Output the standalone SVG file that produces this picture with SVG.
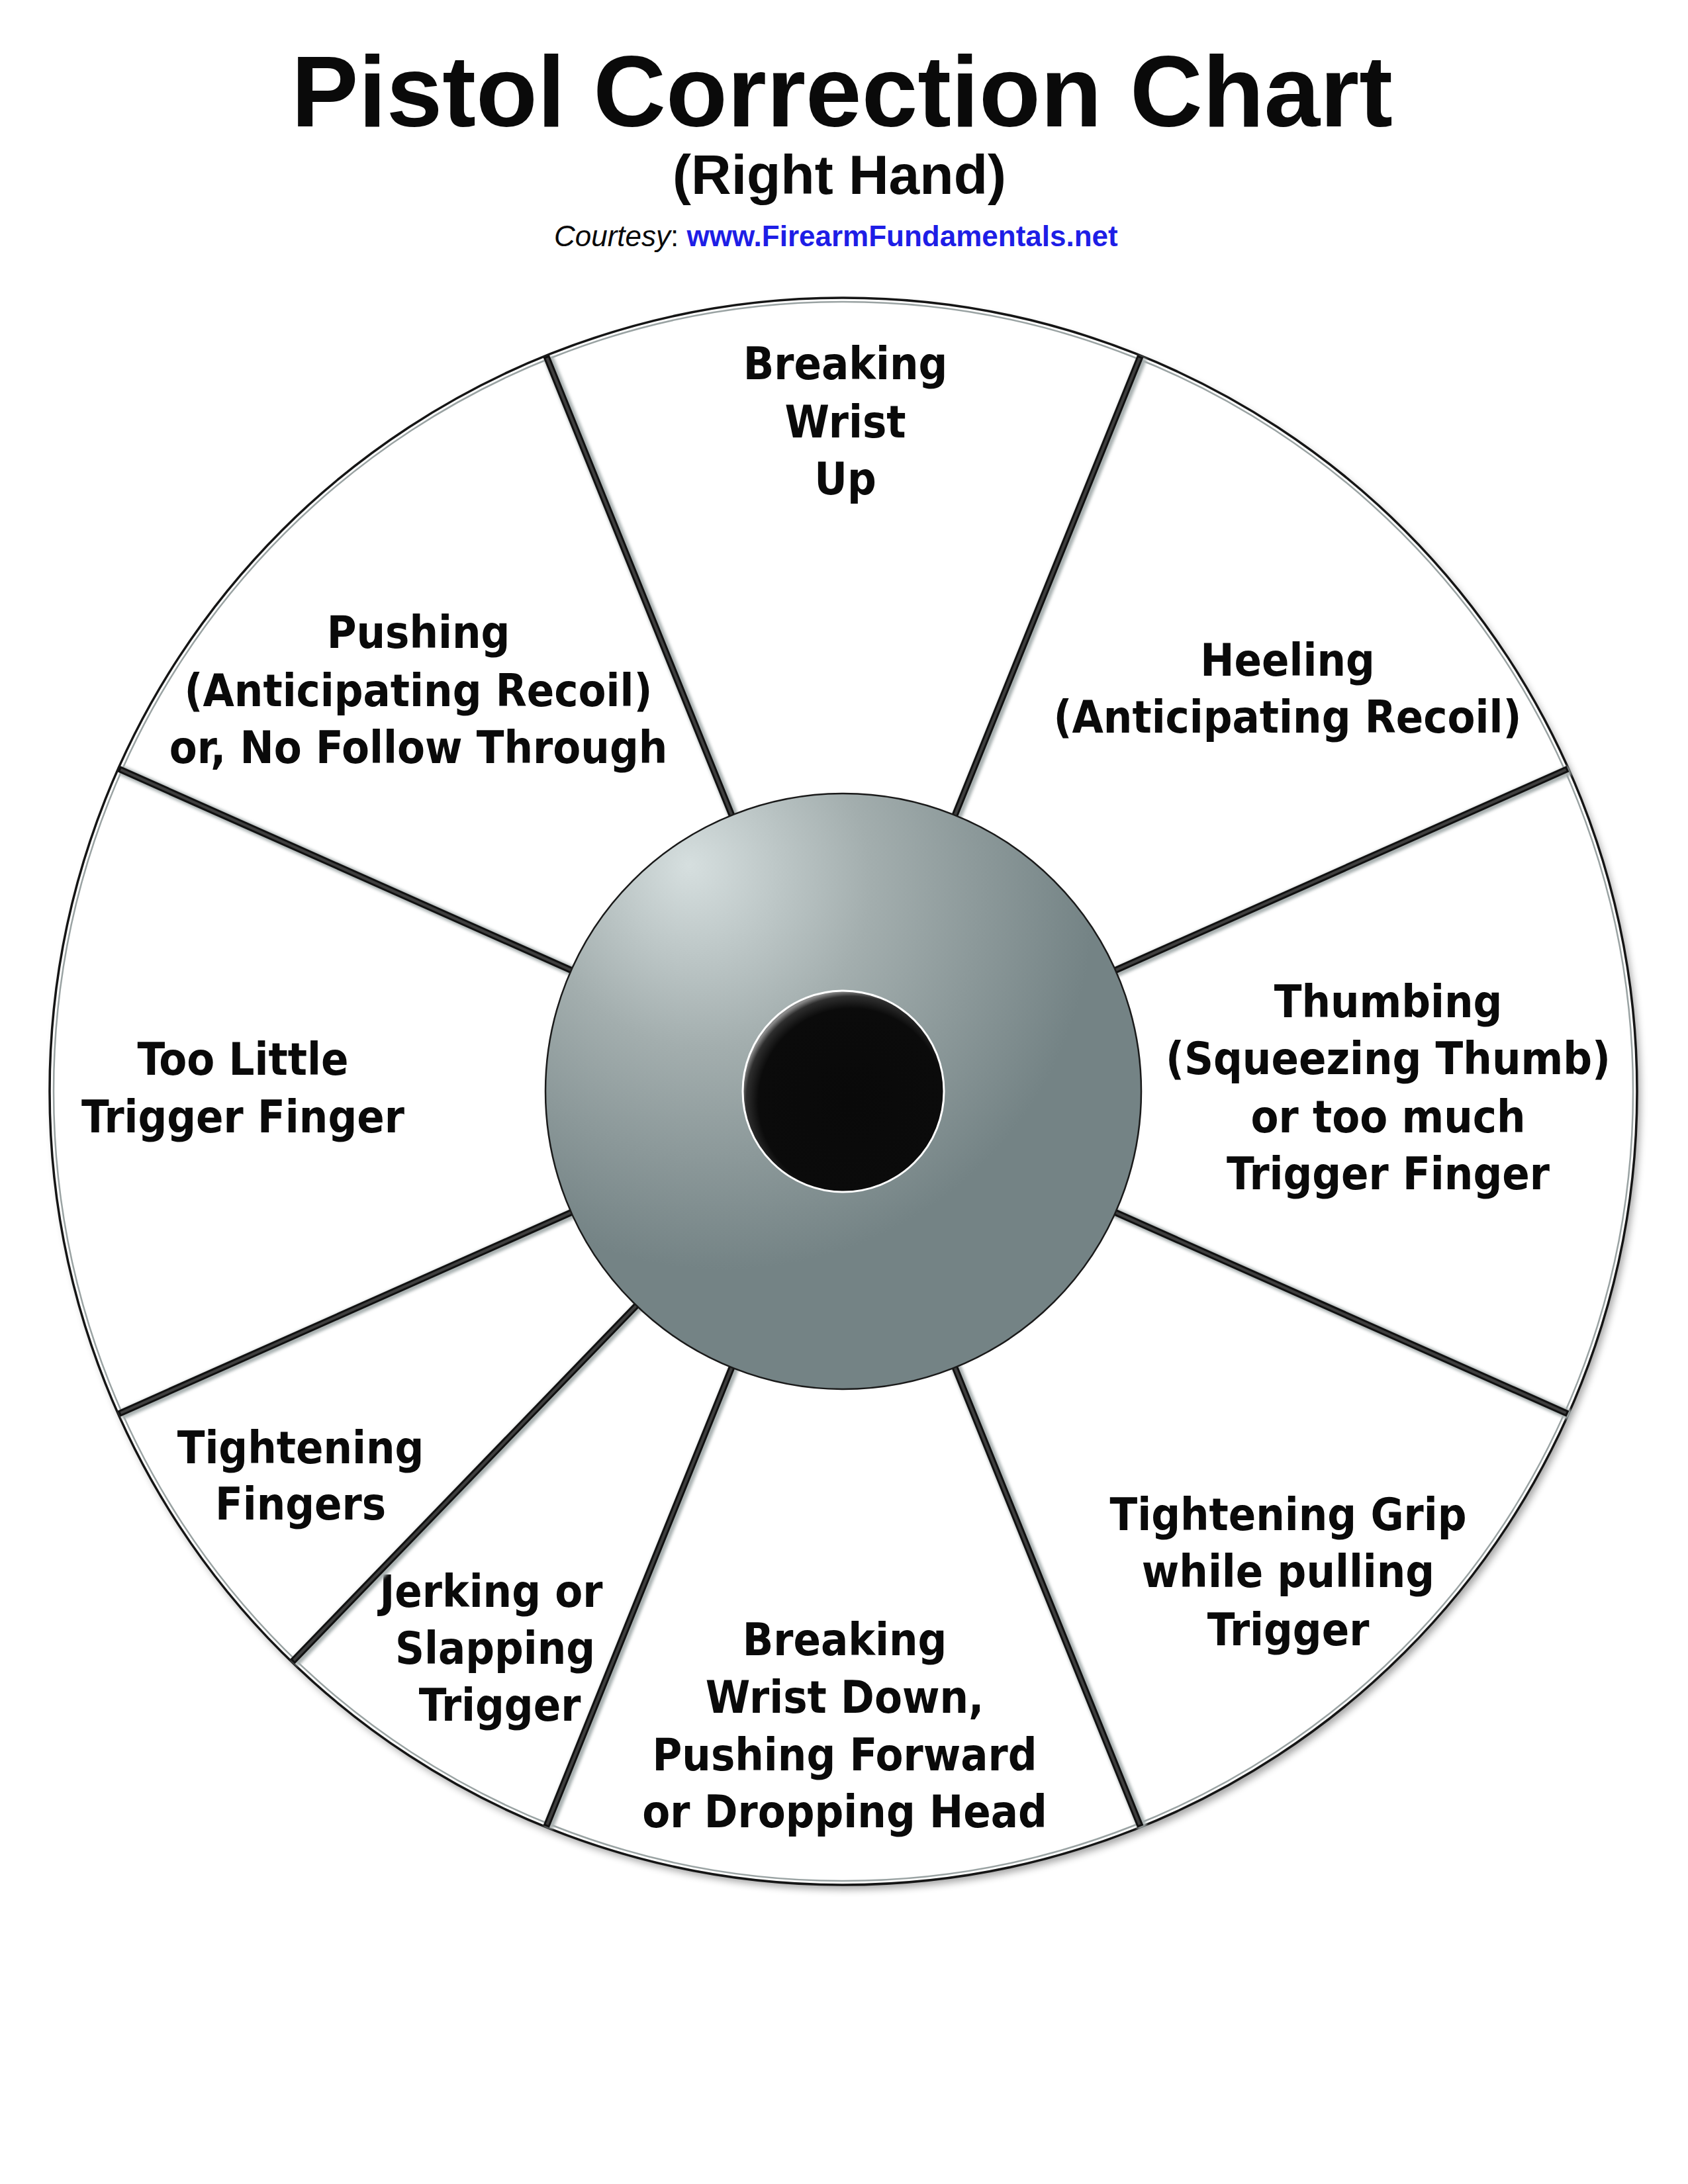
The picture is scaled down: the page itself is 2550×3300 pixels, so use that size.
<svg xmlns="http://www.w3.org/2000/svg" width="2550" height="3300" viewBox="0 0 2550 3300">
<style>
.lbl{font-family:"DejaVu Sans Condensed","DejaVu Sans","Liberation Sans",sans-serif;font-weight:bold;font-size:68px;fill:#0a0a0a;text-anchor:middle}
.sector{fill:#ffffff;stroke:none}
.div-shadow{stroke:#a9b1b1;stroke-width:15;stroke-linecap:butt;fill:none}
.div-outer{stroke:#111111;stroke-width:10;stroke-linecap:butt;fill:none}
.div-inner{stroke:#3e3e3e;stroke-width:4;stroke-linecap:butt;fill:none}
</style>
<defs>
<filter id="blur6" x="-10%" y="-10%" width="120%" height="120%"><feGaussianBlur stdDeviation="6"/></filter>
<filter id="blur2" x="-5%" y="-5%" width="110%" height="110%"><feGaussianBlur stdDeviation="2"/></filter>
<radialGradient id="hubGrad" cx="0.3" cy="0.18" r="0.62" fx="0.24" fy="0.12">
<stop offset="0" stop-color="#d6dfdf"/>
<stop offset="0.45" stop-color="#a3aeae"/>
<stop offset="1" stop-color="#748385"/>
</radialGradient>
<radialGradient id="bullGrad" cx="0.54" cy="0.55" r="0.55">
<stop offset="0" stop-color="#090909"/>
<stop offset="0.84" stop-color="#0b0b0b"/>
<stop offset="0.95" stop-color="#2e2e2e"/>
<stop offset="1" stop-color="#8a8a8a"/>
</radialGradient>
</defs>
<rect width="2550" height="3300" fill="#ffffff"/>

<g id="title">
<text x="1272" y="191" font-family="Liberation Sans, Arial, sans-serif" font-weight="bold" font-size="152" text-anchor="middle" fill="#0a0a0a">Pistol Correction Chart</text>
<text x="1268" y="293" font-family="Liberation Sans, Arial, sans-serif" font-weight="bold" font-size="84" text-anchor="middle" fill="#0a0a0a">(Right Hand)</text>
<text x="837" y="372" font-family="Liberation Sans, Arial, sans-serif" font-size="44" fill="#0a0a0a"><tspan font-style="italic">Courtesy</tspan><tspan>: </tspan><tspan font-weight="bold" fill="#1e1ee6">www.FirearmFundamentals.net</tspan></text>
</g>

<!-- wheel shadow -->
<circle cx="1279" cy="1656" r="1199" fill="#000" opacity="0.35" filter="url(#blur6)"/>
<circle cx="1274" cy="1649" r="1199" fill="#ffffff"/>

<g id="sector-breaking-wrist-up">
<path class="sector" d="M824.9 537.3 A1199 1199 0 0 1 1723.1 537.3 L1442.6 1231.8 A450 450 0 0 0 1105.4 1231.8 Z"/>
<text class="lbl" x="1277" y="573">Breaking</text>
<text class="lbl" x="1277" y="661">Wrist</text>
<text class="lbl" x="1277" y="747">Up</text>
</g>
<g id="sector-heeling">
<path class="sector" d="M1723.1 537.3 A1199 1199 0 0 1 2369.3 1161.4 L1685.1 1466.0 A450 450 0 0 0 1442.6 1231.8 Z"/>
<text class="lbl" x="1945" y="1021">Heeling</text>
<text class="lbl" x="1945" y="1107">(Anticipating Recoil)</text>
</g>
<g id="sector-thumbing">
<path class="sector" d="M2369.3 1161.4 A1199 1199 0 0 1 2369.3 2136.6 L1685.1 1832.0 A450 450 0 0 0 1685.1 1466.0 Z"/>
<text class="lbl" x="2097" y="1537">Thumbing</text>
<text class="lbl" x="2097" y="1623">(Squeezing Thumb)</text>
<text class="lbl" x="2097" y="1711">or too much</text>
<text class="lbl" x="2097" y="1797">Trigger Finger</text>
</g>
<g id="sector-tightening-grip">
<path class="sector" d="M2369.3 2136.6 A1199 1199 0 0 1 1723.1 2760.7 L1442.6 2066.2 A450 450 0 0 0 1685.1 1832.0 Z"/>
<text class="lbl" x="1946" y="2312">Tightening Grip</text>
<text class="lbl" x="1946" y="2398">while pulling</text>
<text class="lbl" x="1946" y="2486">Trigger</text>
</g>
<g id="sector-breaking-wrist-down">
<path class="sector" d="M1723.1 2760.7 A1199 1199 0 0 1 824.9 2760.7 L1105.4 2066.2 A450 450 0 0 0 1442.6 2066.2 Z"/>
<text class="lbl" x="1276" y="2501">Breaking</text>
<text class="lbl" x="1276" y="2588">Wrist Down,</text>
<text class="lbl" x="1276" y="2675">Pushing Forward</text>
<text class="lbl" x="1276" y="2761">or Dropping Head</text>
</g>
<g id="sector-jerking">
<path class="sector" d="M824.9 2760.7 A1199 1199 0 0 1 441.1 2511.4 L961.4 1972.7 A450 450 0 0 0 1105.4 2066.2 Z"/>
<text class="lbl" x="742" y="2428">Jerking or</text>
<text class="lbl" x="748" y="2514">Slapping</text>
<text class="lbl" x="755" y="2600">Trigger</text>
</g>
<g id="sector-tightening-fingers">
<path class="sector" d="M441.1 2511.4 A1199 1199 0 0 1 178.7 2136.6 L862.9 1832.0 A450 450 0 0 0 961.4 1972.7 Z"/>
<text class="lbl" x="454" y="2211">Tightening</text>
<text class="lbl" x="454" y="2296">Fingers</text>
</g>
<g id="sector-too-little-trigger-finger">
<path class="sector" d="M178.7 2136.6 A1199 1199 0 0 1 178.7 1161.4 L862.9 1466.0 A450 450 0 0 0 862.9 1832.0 Z"/>
<text class="lbl" x="367" y="1624">Too Little</text>
<text class="lbl" x="367" y="1711">Trigger Finger</text>
</g>
<g id="sector-pushing">
<path class="sector" d="M178.7 1161.4 A1199 1199 0 0 1 824.9 537.3 L1105.4 1231.8 A450 450 0 0 0 862.9 1466.0 Z"/>
<text class="lbl" x="632" y="979">Pushing</text>
<text class="lbl" x="632" y="1067">(Anticipating Recoil)</text>
<text class="lbl" x="632" y="1153">or, No Follow Through</text>
</g>

<!-- rim -->
<g id="rim">
<circle cx="1274" cy="1649" r="1193" fill="none" stroke="#9aa3a3" stroke-width="2.5"/>
<circle cx="1274" cy="1649" r="1199" fill="none" stroke="#151515" stroke-width="3.5"/>
</g>

<g id="connectors">
<g filter="url(#blur2)" transform="translate(3,2)">
<path class="div-shadow" d="M1438.8 1241.0 L1722.8 538.2 M1675.9 1470.1 L2368.4 1161.8 M1675.9 1827.9 L2368.4 2136.2 M1438.8 2057.0 L1722.8 2759.8 M1109.2 2057.0 L825.2 2759.8 M968.3 1965.5 L441.7 2510.7 M872.1 1827.9 L179.6 2136.2 M872.1 1470.1 L179.6 1161.8 M1109.2 1241.0 L825.2 538.2"/>
</g>
<path class="div-outer" d="M1438.8 1241.0 L1722.8 538.2 M1675.9 1470.1 L2368.4 1161.8 M1675.9 1827.9 L2368.4 2136.2 M1438.8 2057.0 L1722.8 2759.8 M1109.2 2057.0 L825.2 2759.8 M968.3 1965.5 L441.7 2510.7 M872.1 1827.9 L179.6 2136.2 M872.1 1470.1 L179.6 1161.8 M1109.2 1241.0 L825.2 538.2"/>
<path class="div-inner" d="M1438.8 1241.0 L1721.6 541.0 M1675.9 1470.1 L2365.6 1163.0 M1675.9 1827.9 L2365.6 2135.0 M1438.8 2057.0 L1721.6 2757.0 M1109.2 2057.0 L826.4 2757.0 M968.3 1965.5 L443.8 2508.5 M872.1 1827.9 L182.4 2135.0 M872.1 1470.1 L182.4 1163.0 M1109.2 1241.0 L826.4 541.0"/>
</g>

<g id="hub">
<circle cx="1274" cy="1649" r="450" fill="url(#hubGrad)" stroke="#1a1a1a" stroke-width="2.5"/>
</g>
<g id="bullseye">
<circle cx="1274" cy="1649" r="152" fill="url(#bullGrad)" stroke="#ffffff" stroke-width="3"/>
</g>
</svg>
